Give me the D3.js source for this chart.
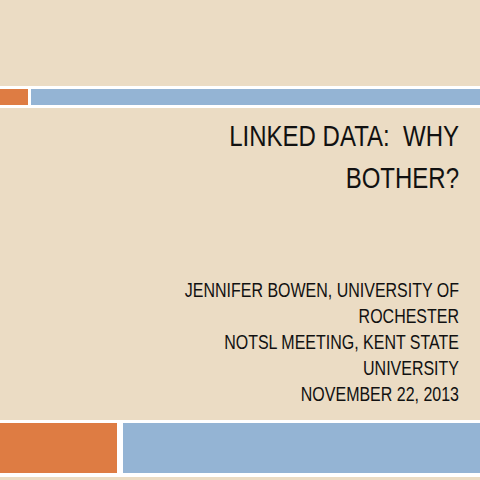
<!DOCTYPE html>
<html><head><meta charset="utf-8">
<script src="https://cdn.jsdelivr.net/npm/d3@7"></script>
<style>body{margin:0;background:#EBDCC4;}</style>
</head><body><div id="slide"></div>
<script>
var titleLines = ["LINKED DATA:\u00a0 WHY", "BOTHER?"];
var subLines = ["JENNIFER BOWEN, UNIVERSITY OF", "ROCHESTER", "NOTSL MEETING, KENT STATE", "UNIVERSITY", "NOVEMBER 22, 2013"];
var bands = ["top", "bottom"];
var blocks = [
  {band: "top", part: "orange", x0: 0, x1: 28},
  {band: "top", part: "blue", x0: 31, x1: 480},
  {band: "bottom", part: "orange", x0: 0, x1: 117},
  {band: "bottom", part: "blue", x0: 123, x1: 480}
];

function main(){
  var width = 480, height = 480;
  var svg = d3.select("#slide").append("svg")
    .attr("width", width).attr("height", height);
  svg.append("rect").attr("width", width).attr("height", height).attr("fill", "#EBDCC4");

  var x = d3.scaleLinear().domain([0, 480]).range([0, width]);
  var bandY = {top: [86, 108, 89, 105], bottom: [420, 477, 423, 473]};
  var colors = {orange: "#DE7C43", blue: "#94B4D4"};

  // white strips behind the coloured blocks
  svg.selectAll("rect.strip").data(bands).enter().append("rect")
    .attr("x", 0).attr("width", width)
    .attr("y", function(d){ return bandY[d][0]; })
    .attr("height", function(d){ return bandY[d][1] - bandY[d][0]; })
    .attr("fill", "#fff");

  svg.selectAll("rect.block").data(blocks).enter().append("rect")
    .attr("x", function(d){ return x(d.x0); })
    .attr("width", function(d){ return x(d.x1) - x(d.x0); })
    .attr("y", function(d){ return bandY[d.band][2]; })
    .attr("height", function(d){ return bandY[d.band][3] - bandY[d.band][2]; })
    .attr("fill", function(d){ return colors[d.part]; });

  var font = "'Liberation Sans', Arial, sans-serif";

  // condensed look: squeeze text horizontally, anchored on the right edge
  var tg = svg.append("g").attr("transform", "translate(459,0) scale(0.8,1)");
  tg.selectAll("text").data(titleLines).enter().append("text")
    .attr("x", 0).attr("y", function(d, i){ return 146 + i * 42; })
    .attr("text-anchor", "end").attr("font-family", font)
    .attr("font-size", "30px").attr("fill", "#111")
    .text(function(d){ return d; });

  var sg = svg.append("g").attr("transform", "translate(459,0) scale(0.82,1)");
  sg.selectAll("text").data(subLines).enter().append("text")
    .attr("x", 0).attr("y", function(d, i){ return 297 + i * 26; })
    .attr("text-anchor", "end").attr("font-family", font)
    .attr("font-size", "19.5px").attr("fill", "#111")
    .text(function(d){ return d; });
}
main();
</script></body></html>
